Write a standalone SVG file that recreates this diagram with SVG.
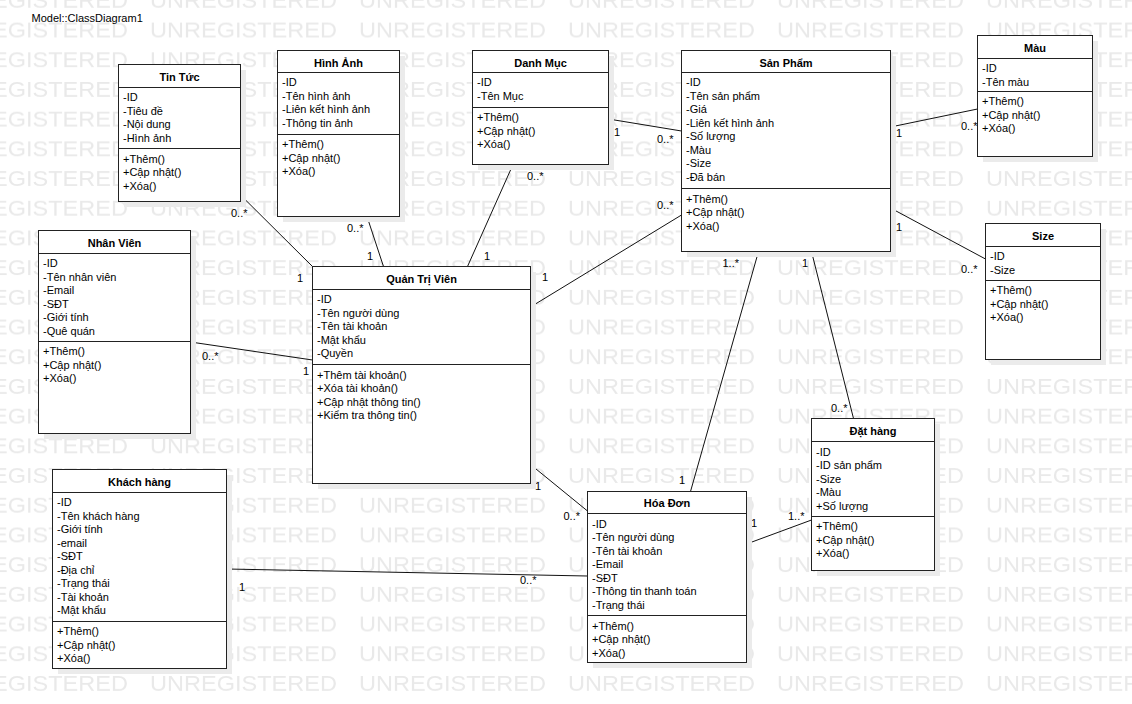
<svg xmlns="http://www.w3.org/2000/svg" width="1132" height="704" viewBox="0 0 1132 704">
  <style>
    .t { font-family: "Liberation Sans", Arial, sans-serif; font-size: 11px; fill: #000; }
    .title { font-weight: bold; text-anchor: middle; }
    .box { fill: #fff; stroke: #222; stroke-width: 1; }
    .shadow { fill: #ebebeb; }
    .sep { stroke: #222; stroke-width: 1; }
    .wm { font-family: "Liberation Sans", Arial, sans-serif; font-size: 22px; fill: #e9e9e9; }
    #connectors line { stroke: #111; stroke-width: 1; }
  </style>
  <defs>
    <!-- tiled evaluation-copy watermark -->
    <pattern id="wmTile" patternUnits="userSpaceOnUse" x="-59" y="-16" width="209" height="29.7">
      <text class="wm" x="0" y="24" textLength="187" lengthAdjust="spacingAndGlyphs">UNREGISTERED</text>
    </pattern>
  </defs>

  <rect x="0" y="0" width="1132" height="704" fill="#fff"/>
  <rect x="0" y="0" width="1132" height="704" fill="url(#wmTile)"/>

  <text class="t" x="31.5" y="21.5">Model::ClassDiagram1</text>

  <!-- associations -->
  <g id="connectors">
    <line x1="240.5" y1="195" x2="312.5" y2="266.5"/>
    <line x1="367" y1="216.5" x2="383.5" y2="266.5"/>
    <line x1="513" y1="164.5" x2="467.5" y2="266.5"/>
    <line x1="608.5" y1="119" x2="681.5" y2="131"/>
    <line x1="530.5" y1="307" x2="681.5" y2="215"/>
    <line x1="190.5" y1="342" x2="312.5" y2="360"/>
    <line x1="530.5" y1="464.5" x2="587.5" y2="511"/>
    <line x1="758.5" y1="251.5" x2="690.5" y2="491.5"/>
    <line x1="811.5" y1="251.5" x2="853.5" y2="418.5"/>
    <line x1="890.5" y1="127" x2="977.5" y2="109"/>
    <line x1="890.5" y1="208" x2="985.5" y2="259"/>
    <line x1="226.5" y1="569" x2="587.5" y2="576"/>
    <line x1="746.5" y1="544" x2="811.5" y2="520"/>
  </g>

  <!-- multiplicities -->
  <g id="multiplicities" class="t">
    <text x="231" y="216.5">0..*</text>
    <text x="297" y="282">1</text>
    <text x="347" y="231.5">0..*</text>
    <text x="367" y="260">1</text>
    <text x="527" y="180">0..*</text>
    <text x="484" y="260">1</text>
    <text x="614" y="136">1</text>
    <text x="657" y="143">0..*</text>
    <text x="542" y="281">1</text>
    <text x="657" y="208.5">0..*</text>
    <text x="202" y="360">0..*</text>
    <text x="303" y="375">1</text>
    <text x="535" y="490">1</text>
    <text x="563.5" y="519.5">0..*</text>
    <text x="722.5" y="267">1..*</text>
    <text x="679" y="483.5">1</text>
    <text x="802" y="267">1</text>
    <text x="831" y="411.5">0..*</text>
    <text x="896" y="137">1</text>
    <text x="961" y="130">0..*</text>
    <text x="896" y="231">1</text>
    <text x="961" y="272.5">0..*</text>
    <text x="239" y="591">1</text>
    <text x="520" y="584">0..*</text>
    <text x="751" y="527">1</text>
    <text x="788" y="519.5">1..*</text>
  </g>

  <g id="tin-tuc">
    <rect class="shadow" x="124" y="70" width="122" height="137"/>
    <rect class="box" x="118.5" y="64.5" width="122" height="137"/>
    <line class="sep" x1="118.5" y1="87.5" x2="240.5" y2="87.5"/>
    <line class="sep" x1="118.5" y1="148.5" x2="240.5" y2="148.5"/>
    <text class="t title" x="179.5" y="80.5">Tin Tức</text>
    <text class="t"><tspan x="123" y="101">-ID</tspan><tspan x="123" dy="13.55">-Tiêu đề</tspan><tspan x="123" dy="13.55">-Nội dung</tspan><tspan x="123" dy="13.55">-Hình ảnh</tspan></text>
    <text class="t"><tspan x="123" y="162.8">+Thêm()</tspan><tspan x="123" dy="13.55">+Cập nhật()</tspan><tspan x="123" dy="13.55">+Xóa()</tspan></text>
  </g>

  <g id="hinh-anh">
    <rect class="shadow" x="283" y="56" width="122" height="166"/>
    <rect class="box" x="277.5" y="50.5" width="122" height="166"/>
    <line class="sep" x1="277.5" y1="72.5" x2="399.5" y2="72.5"/>
    <line class="sep" x1="277.5" y1="134.5" x2="399.5" y2="134.5"/>
    <text class="t title" x="338.5" y="66.5">Hình Ảnh</text>
    <text class="t"><tspan x="282" y="86">-ID</tspan><tspan x="282" dy="13.55">-Tên hình ảnh</tspan><tspan x="282" dy="13.55">-Liên kết hình ảnh</tspan><tspan x="282" dy="13.55">-Thông tin ảnh</tspan></text>
    <text class="t"><tspan x="282" y="148">+Thêm()</tspan><tspan x="282" dy="13.55">+Cập nhật()</tspan><tspan x="282" dy="13.55">+Xóa()</tspan></text>
  </g>

  <g id="danh-muc">
    <rect class="shadow" x="478" y="56" width="136" height="114"/>
    <rect class="box" x="472.5" y="50.5" width="136" height="114"/>
    <line class="sep" x1="472.5" y1="72.5" x2="608.5" y2="72.5"/>
    <line class="sep" x1="472.5" y1="107.5" x2="608.5" y2="107.5"/>
    <text class="t title" x="540.5" y="66.5">Danh Mục</text>
    <text class="t"><tspan x="477" y="86">-ID</tspan><tspan x="477" dy="13.55">-Tên Mục</tspan></text>
    <text class="t"><tspan x="477" y="121">+Thêm()</tspan><tspan x="477" dy="13.55">+Cập nhật()</tspan><tspan x="477" dy="13.55">+Xóa()</tspan></text>
  </g>

  <g id="san-pham">
    <rect class="shadow" x="687" y="56" width="209" height="201"/>
    <rect class="box" x="681.5" y="50.5" width="209" height="201"/>
    <line class="sep" x1="681.5" y1="72.5" x2="890.5" y2="72.5"/>
    <line class="sep" x1="681.5" y1="188.5" x2="890.5" y2="188.5"/>
    <text class="t title" x="786" y="66.5">Sản Phẩm</text>
    <text class="t"><tspan x="686" y="86">-ID</tspan><tspan x="686" dy="13.55">-Tên sản phẩm</tspan><tspan x="686" dy="13.55">-Giá</tspan><tspan x="686" dy="13.55">-Liên kết hình ảnh</tspan><tspan x="686" dy="13.55">-Số lượng</tspan><tspan x="686" dy="13.55">-Màu</tspan><tspan x="686" dy="13.55">-Size</tspan><tspan x="686" dy="13.55">-Đã bán</tspan></text>
    <text class="t"><tspan x="686" y="202.5">+Thêm()</tspan><tspan x="686" dy="13.55">+Cập nhật()</tspan><tspan x="686" dy="13.55">+Xóa()</tspan></text>
  </g>

  <g id="mau">
    <rect class="shadow" x="983" y="41" width="115" height="121"/>
    <rect class="box" x="977.5" y="35.5" width="115" height="121"/>
    <line class="sep" x1="977.5" y1="58.5" x2="1092.5" y2="58.5"/>
    <line class="sep" x1="977.5" y1="91.5" x2="1092.5" y2="91.5"/>
    <text class="t title" x="1035" y="51.5">Màu</text>
    <text class="t"><tspan x="982" y="72">-ID</tspan><tspan x="982" dy="13.55">-Tên màu</tspan></text>
    <text class="t"><tspan x="982" y="105.3">+Thêm()</tspan><tspan x="982" dy="13.55">+Cập nhật()</tspan><tspan x="982" dy="13.55">+Xóa()</tspan></text>
  </g>

  <g id="size">
    <rect class="shadow" x="991" y="229" width="115" height="136"/>
    <rect class="box" x="985.5" y="223.5" width="115" height="136"/>
    <line class="sep" x1="985.5" y1="246.5" x2="1100.5" y2="246.5"/>
    <line class="sep" x1="985.5" y1="280.5" x2="1100.5" y2="280.5"/>
    <text class="t title" x="1043" y="239.5">Size</text>
    <text class="t"><tspan x="990" y="260">-ID</tspan><tspan x="990" dy="13.55">-Size</tspan></text>
    <text class="t"><tspan x="990" y="294">+Thêm()</tspan><tspan x="990" dy="13.55">+Cập nhật()</tspan><tspan x="990" dy="13.55">+Xóa()</tspan></text>
  </g>

  <g id="nhan-vien">
    <rect class="shadow" x="44" y="236" width="152" height="203"/>
    <rect class="box" x="38.5" y="230.5" width="152" height="203"/>
    <line class="sep" x1="38.5" y1="253.5" x2="190.5" y2="253.5"/>
    <line class="sep" x1="38.5" y1="341.5" x2="190.5" y2="341.5"/>
    <text class="t title" x="114.5" y="246.5">Nhân Viên</text>
    <text class="t"><tspan x="43" y="267">-ID</tspan><tspan x="43" dy="13.55">-Tên nhân viên</tspan><tspan x="43" dy="13.55">-Email</tspan><tspan x="43" dy="13.55">-SĐT</tspan><tspan x="43" dy="13.55">-Giới tính</tspan><tspan x="43" dy="13.55">-Quê quán</tspan></text>
    <text class="t"><tspan x="43" y="355.3">+Thêm()</tspan><tspan x="43" dy="13.55">+Cập nhật()</tspan><tspan x="43" dy="13.55">+Xóa()</tspan></text>
  </g>

  <g id="quan-tri-vien">
    <rect class="shadow" x="318" y="272" width="218" height="217"/>
    <rect class="box" x="312.5" y="266.5" width="218" height="217"/>
    <line class="sep" x1="312.5" y1="289.5" x2="530.5" y2="289.5"/>
    <line class="sep" x1="312.5" y1="364.5" x2="530.5" y2="364.5"/>
    <text class="t title" x="421.5" y="282.5">Quản Trị Viên</text>
    <text class="t"><tspan x="317" y="303">-ID</tspan><tspan x="317" dy="13.55">-Tên người dùng</tspan><tspan x="317" dy="13.55">-Tên tài khoản</tspan><tspan x="317" dy="13.55">-Mật khẩu</tspan><tspan x="317" dy="13.55">-Quyền</tspan></text>
    <text class="t"><tspan x="317" y="378.5">+Thêm tài khoản()</tspan><tspan x="317" dy="13.55">+Xóa tài khoản()</tspan><tspan x="317" dy="13.55">+Cập nhật thông tin()</tspan><tspan x="317" dy="13.55">+Kiểm tra thông tin()</tspan></text>
  </g>

  <g id="khach-hang">
    <rect class="shadow" x="58" y="475" width="174" height="199"/>
    <rect class="box" x="52.5" y="469.5" width="174" height="199"/>
    <line class="sep" x1="52.5" y1="492.5" x2="226.5" y2="492.5"/>
    <line class="sep" x1="52.5" y1="621.5" x2="226.5" y2="621.5"/>
    <text class="t title" x="139.5" y="485.5">Khách hàng</text>
    <text class="t"><tspan x="57" y="506">-ID</tspan><tspan x="57" dy="13.55">-Tên khách hàng</tspan><tspan x="57" dy="13.55">-Giới tính</tspan><tspan x="57" dy="13.55">-email</tspan><tspan x="57" dy="13.55">-SĐT</tspan><tspan x="57" dy="13.55">-Địa chỉ</tspan><tspan x="57" dy="13.55">-Trạng thái</tspan><tspan x="57" dy="13.55">-Tài khoản</tspan><tspan x="57" dy="13.55">-Mật khẩu</tspan></text>
    <text class="t"><tspan x="57" y="635.3">+Thêm()</tspan><tspan x="57" dy="13.55">+Cập nhật()</tspan><tspan x="57" dy="13.55">+Xóa()</tspan></text>
  </g>

  <g id="hoa-don">
    <rect class="shadow" x="593" y="497" width="159" height="171"/>
    <rect class="box" x="587.5" y="491.5" width="159" height="171"/>
    <line class="sep" x1="587.5" y1="513.5" x2="746.5" y2="513.5"/>
    <line class="sep" x1="587.5" y1="615.5" x2="746.5" y2="615.5"/>
    <text class="t title" x="667" y="507">Hóa Đơn</text>
    <text class="t"><tspan x="592" y="527.5">-ID</tspan><tspan x="592" dy="13.55">-Tên người dùng</tspan><tspan x="592" dy="13.55">-Tên tài khoản</tspan><tspan x="592" dy="13.55">-Email</tspan><tspan x="592" dy="13.55">-SĐT</tspan><tspan x="592" dy="13.55">-Thông tin thanh toán</tspan><tspan x="592" dy="13.55">-Trạng thái</tspan></text>
    <text class="t"><tspan x="592" y="629.8">+Thêm()</tspan><tspan x="592" dy="13.55">+Cập nhật()</tspan><tspan x="592" dy="13.55">+Xóa()</tspan></text>
  </g>

  <g id="dat-hang">
    <rect class="shadow" x="817" y="424" width="123" height="152"/>
    <rect class="box" x="811.5" y="418.5" width="123" height="152"/>
    <line class="sep" x1="811.5" y1="441.5" x2="934.5" y2="441.5"/>
    <line class="sep" x1="811.5" y1="516.5" x2="934.5" y2="516.5"/>
    <text class="t title" x="873" y="434.5">Đặt hàng</text>
    <text class="t"><tspan x="816" y="455.5">-ID</tspan><tspan x="816" dy="13.55">-ID sản phẩm</tspan><tspan x="816" dy="13.55">-Size</tspan><tspan x="816" dy="13.55">-Màu</tspan><tspan x="816" dy="13.55">+Số lượng</tspan></text>
    <text class="t"><tspan x="816" y="530.3">+Thêm()</tspan><tspan x="816" dy="13.55">+Cập nhật()</tspan><tspan x="816" dy="13.55">+Xóa()</tspan></text>
  </g>
</svg>
